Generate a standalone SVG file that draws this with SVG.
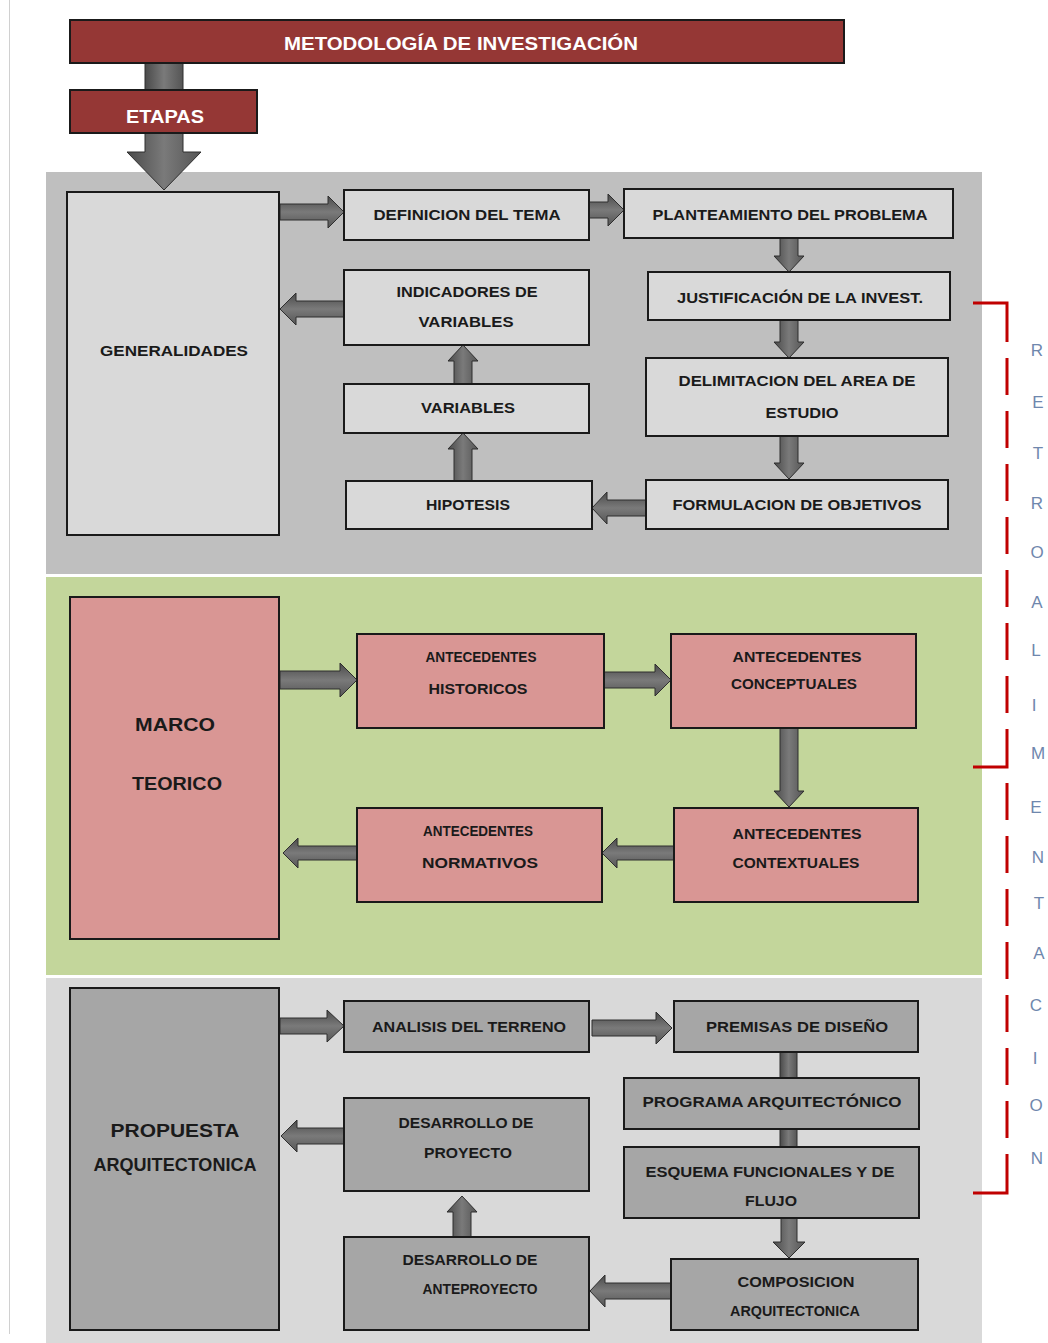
<svg xmlns="http://www.w3.org/2000/svg" width="1048" height="1343" viewBox="0 0 1048 1343">
<defs>
<linearGradient id="gh" x1="0" y1="0" x2="0" y2="1">
<stop offset="0" stop-color="#4a4a4a"/><stop offset="0.5" stop-color="#7a7a7a"/><stop offset="1" stop-color="#555"/>
</linearGradient>
<linearGradient id="gv" x1="0" y1="0" x2="1" y2="0">
<stop offset="0" stop-color="#4a4a4a"/><stop offset="0.5" stop-color="#7a7a7a"/><stop offset="1" stop-color="#555"/>
</linearGradient>
<style>
.ah{fill:url(#gh);stroke:#2e2e2e;stroke-width:1}
.av{fill:url(#gv);stroke:#2e2e2e;stroke-width:1}
.n1{fill:#d9d9d9;stroke:#1a1a1a;stroke-width:2}
.n2{fill:#d99694;stroke:#1a1a1a;stroke-width:2}
.n3{fill:#a6a6a6;stroke:#1a1a1a;stroke-width:2}
.hd{fill:#953735;stroke:#1a1a1a;stroke-width:2}
.t{font-family:"Liberation Sans",Arial,sans-serif;font-weight:bold;font-size:15px;fill:#1a1a1a;text-anchor:middle}
.ts{font-size:14px}
.tb{font-size:19px}
.tw{font-family:"Liberation Sans",Arial,sans-serif;font-weight:bold;font-size:19px;fill:#fff;text-anchor:middle}
.lt{font-family:"Liberation Sans",Arial,sans-serif;font-size:17px;fill:#6f87ad;text-anchor:middle}
.br{fill:none;stroke:#c00000;stroke-width:3}
</style>
</defs>
<rect width="1048" height="1343" fill="#fff"/>
<line x1="9.5" y1="0" x2="9.5" y2="1334" stroke="#d0d0d0" stroke-width="1"/>
<rect x="46" y="172" width="936" height="402" fill="#bfbfbf"/>
<rect x="46" y="577" width="936" height="398" fill="#c3d69b"/>
<rect x="46" y="978" width="936" height="365" fill="#d9d9d9"/>

<g id="connectors">
<rect class="av" x="145" y="63" width="38" height="27"/>
<polygon class="av" points="145,133 183,133 183,152 201,152 164,190 127,152 145,152"/>
<polygon class="ah" points="280,204 328,204 328,196 344,212 328,228 328,220 280,220"/>
<polygon class="ah" points="589,202 608,202 608,194 624,210 608,226 608,218 589,218"/>
<polygon class="ah" points="344,301 296,301 296,293 280,309 296,325 296,317 344,317"/>
<polygon class="ah" points="646,500 607,500 607,492 592,508 607,524 607,516 646,516"/>
<polygon class="av" points="454,481 454,449 448,449 463,433 478,449 472,449 472,481"/>
<polygon class="av" points="454,384 454,361 448,361 463,345 478,361 472,361 472,384"/>
<polygon class="av" points="780,238 798,238 798,256 804,256 789,272 774,256 780,256"/>
<polygon class="av" points="780,320 798,320 798,342 804,342 789,358 774,342 780,342"/>
<polygon class="av" points="780,436 798,436 798,463 804,463 789,479 774,463 780,463"/>
<polygon class="ah" points="280,671 340,671 340,663 357,680 340,697 340,689 280,689"/>
<polygon class="ah" points="604,672 655,672 655,664 671,680 655,696 655,688 604,688"/>
<polygon class="av" points="780,728 798,728 798,791 804,791 789,807 774,791 780,791"/>
<polygon class="ah" points="674,846 617,846 617,838 602,853 617,868 617,860 674,860"/>
<polygon class="ah" points="357,846 298,846 298,838 283,853 298,868 298,860 357,860"/>
<polygon class="ah" points="280,1018 327,1018 327,1010 344,1026 327,1042 327,1034 280,1034"/>
<polygon class="ah" points="592,1020 656,1020 656,1012 672,1028 656,1044 656,1036 592,1036"/>
<rect class="av" x="780" y="1052" width="17" height="26"/>
<rect class="av" x="780" y="1129" width="17" height="18"/>
<polygon class="av" points="781,1218 797,1218 797,1242 805,1242 789,1258 773,1242 781,1242"/>
<polygon class="ah" points="671,1283 605,1283 605,1275 590,1291 605,1307 605,1299 671,1299"/>
<polygon class="av" points="453,1237 453,1212 447,1212 462,1196 477,1212 471,1212 471,1237"/>
<polygon class="ah" points="344,1128 297,1128 297,1120 281,1136 297,1152 297,1144 344,1144"/>
</g>

<g id="header"><rect class="hd" x="70" y="20" width="774" height="43"/><text class="tw" x="461" y="50" textLength="354" lengthAdjust="spacingAndGlyphs">METODOLOGÍA DE INVESTIGACIÓN</text></g>
<g id="etapas"><rect class="hd" x="70" y="90" width="187" height="43"/><text class="tw" x="165" y="123" textLength="78" lengthAdjust="spacingAndGlyphs">ETAPAS</text></g>

<g id="generalidades"><rect class="n1" x="67" y="192" width="212" height="343"/><text class="t" x="174" y="356" textLength="148" lengthAdjust="spacingAndGlyphs">GENERALIDADES</text></g>
<g id="definicion"><rect class="n1" x="344" y="190" width="245" height="50"/><text class="t" x="467" y="220" textLength="187" lengthAdjust="spacingAndGlyphs">DEFINICION  DEL TEMA</text></g>
<g id="planteamiento"><rect class="n1" x="624" y="189" width="329" height="49"/><text class="t" x="790" y="220" textLength="275" lengthAdjust="spacingAndGlyphs">PLANTEAMIENTO DEL PROBLEMA</text></g>
<g id="indicadores"><rect class="n1" x="344" y="270" width="245" height="75"/><text class="t" x="467" y="297" textLength="141" lengthAdjust="spacingAndGlyphs">INDICADORES DE</text><text class="t" x="466" y="327" textLength="95" lengthAdjust="spacingAndGlyphs">VARIABLES</text></g>
<g id="justificacion"><rect class="n1" x="648" y="272" width="302" height="48"/><text class="t" x="800" y="303" textLength="246" lengthAdjust="spacingAndGlyphs">JUSTIFICACIÓN DE LA INVEST.</text></g>
<g id="variables"><rect class="n1" x="344" y="384" width="245" height="49"/><text class="t" x="468" y="413" textLength="94" lengthAdjust="spacingAndGlyphs">VARIABLES</text></g>
<g id="delimitacion"><rect class="n1" x="646" y="358" width="302" height="78"/><text class="t" x="797" y="386" textLength="237" lengthAdjust="spacingAndGlyphs">DELIMITACION  DEL AREA DE</text><text class="t" x="802" y="418" textLength="73" lengthAdjust="spacingAndGlyphs">ESTUDIO</text></g>
<g id="hipotesis"><rect class="n1" x="346" y="481" width="246" height="48"/><text class="t" x="468" y="510" textLength="84" lengthAdjust="spacingAndGlyphs">HIPOTESIS</text></g>
<g id="formulacion"><rect class="n1" x="646" y="480" width="302" height="49"/><text class="t" x="797" y="510" textLength="249" lengthAdjust="spacingAndGlyphs">FORMULACION DE OBJETIVOS</text></g>

<g id="marco"><rect class="n2" x="70" y="597" width="209" height="342"/><text class="t tb" x="175" y="731" textLength="80" lengthAdjust="spacingAndGlyphs">MARCO</text><text class="t tb" x="177" y="790" textLength="90" lengthAdjust="spacingAndGlyphs">TEORICO</text></g>
<g id="historicos"><rect class="n2" x="357" y="634" width="247" height="94"/><text class="t ts" x="481" y="662" textLength="111" lengthAdjust="spacingAndGlyphs">ANTECEDENTES</text><text class="t" x="478" y="694" textLength="99" lengthAdjust="spacingAndGlyphs">HISTORICOS</text></g>
<g id="conceptuales"><rect class="n2" x="671" y="634" width="245" height="94"/><text class="t" x="797" y="662" textLength="129" lengthAdjust="spacingAndGlyphs">ANTECEDENTES</text><text class="t" x="794" y="689" textLength="126" lengthAdjust="spacingAndGlyphs">CONCEPTUALES</text></g>
<g id="normativos"><rect class="n2" x="357" y="808" width="245" height="94"/><text class="t ts" x="478" y="836" textLength="110" lengthAdjust="spacingAndGlyphs">ANTECEDENTES</text><text class="t" x="480" y="868" textLength="116" lengthAdjust="spacingAndGlyphs">NORMATIVOS</text></g>
<g id="contextuales"><rect class="n2" x="674" y="808" width="244" height="94"/><text class="t" x="797" y="839" textLength="129" lengthAdjust="spacingAndGlyphs">ANTECEDENTES</text><text class="t" x="796" y="868" textLength="127" lengthAdjust="spacingAndGlyphs">CONTEXTUALES</text></g>

<g id="propuesta"><rect class="n3" x="70" y="988" width="209" height="342"/><text class="t tb" x="175" y="1137" textLength="129" lengthAdjust="spacingAndGlyphs">PROPUESTA</text><text class="t tb" x="175" y="1171" textLength="163" lengthAdjust="spacingAndGlyphs">ARQUITECTONICA</text></g>
<g id="analisis"><rect class="n3" x="344" y="1001" width="245" height="51"/><text class="t" x="469" y="1032" textLength="194" lengthAdjust="spacingAndGlyphs">ANALISIS DEL TERRENO</text></g>
<g id="premisas"><rect class="n3" x="674" y="1001" width="244" height="51"/><text class="t" x="797" y="1032" textLength="182" lengthAdjust="spacingAndGlyphs">PREMISAS DE DISEÑO</text></g>
<g id="programa"><rect class="n3" x="624" y="1078" width="295" height="51"/><text class="t" x="772" y="1107" textLength="259" lengthAdjust="spacingAndGlyphs">PROGRAMA ARQUITECTÓNICO</text></g>
<g id="esquema"><rect class="n3" x="624" y="1147" width="295" height="71"/><text class="t" x="770" y="1177" textLength="249" lengthAdjust="spacingAndGlyphs">ESQUEMA FUNCIONALES Y DE</text><text class="t" x="771" y="1206" textLength="52" lengthAdjust="spacingAndGlyphs">FLUJO</text></g>
<g id="proyecto"><rect class="n3" x="344" y="1098" width="245" height="93"/><text class="t" x="466" y="1128" textLength="135" lengthAdjust="spacingAndGlyphs">DESARROLLO DE</text><text class="t" x="468" y="1158" textLength="88" lengthAdjust="spacingAndGlyphs">PROYECTO</text></g>
<g id="anteproyecto"><rect class="n3" x="344" y="1237" width="245" height="93"/><text class="t" x="470" y="1265" textLength="135" lengthAdjust="spacingAndGlyphs">DESARROLLO DE</text><text class="t ts" x="480" y="1294" textLength="115" lengthAdjust="spacingAndGlyphs">ANTEPROYECTO</text></g>
<g id="composicion"><rect class="n3" x="671" y="1259" width="247" height="71"/><text class="t" x="796" y="1287" textLength="117" lengthAdjust="spacingAndGlyphs">COMPOSICION</text><text class="t ts" x="795" y="1316" textLength="130" lengthAdjust="spacingAndGlyphs">ARQUITECTONICA</text></g>

<g id="retroalimentacion">
<path class="br" d="M973,303 H1007 V342"/>
<line class="br" x1="1007" y1="358" x2="1007" y2="733" stroke-dasharray="37 16"/>
<path class="br" d="M1007,733 V767 H973"/>
<line class="br" x1="1007" y1="783" x2="1007" y2="1160" stroke-dasharray="37 16"/>
<path class="br" d="M1007,1160 V1193 H973"/>
<text class="lt" x="1037" y="356">R</text>
<text class="lt" x="1038" y="408">E</text>
<text class="lt" x="1038" y="459">T</text>
<text class="lt" x="1037" y="509">R</text>
<text class="lt" x="1037" y="558">O</text>
<text class="lt" x="1037" y="608">A</text>
<text class="lt" x="1036" y="656">L</text>
<text class="lt" x="1034" y="711">I</text>
<text class="lt" x="1038" y="759">M</text>
<text class="lt" x="1036" y="813">E</text>
<text class="lt" x="1038" y="863">N</text>
<text class="lt" x="1039" y="909">T</text>
<text class="lt" x="1039" y="959">A</text>
<text class="lt" x="1036" y="1011">C</text>
<text class="lt" x="1035" y="1064">I</text>
<text class="lt" x="1036" y="1111">O</text>
<text class="lt" x="1037" y="1164">N</text>
</g>
</svg>
